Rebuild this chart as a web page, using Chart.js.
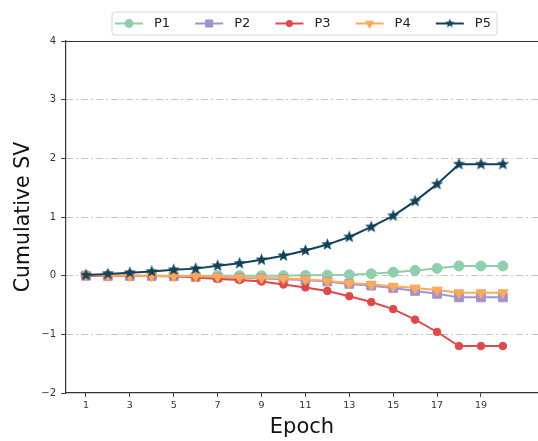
<!DOCTYPE html>
<html>
<head>
<meta charset="utf-8">
<script src="https://cdn.jsdelivr.net/npm/chart.js@4/dist/chart.umd.min.js"></script>
<style>
  html, body { margin: 0; padding: 0; background: #fff; }
  #wrap { width: 538px; height: 441px; }
</style>
</head>
<body>
<div id="wrap"><canvas id="chart" width="538" height="441"></canvas></div>
<script>
const epochs = [1, 2, 3, 4, 5, 6, 7, 8, 9, 10, 11, 12, 13, 14, 15, 16, 17, 18, 19, 20];
const xTicks = [1, 3, 5, 7, 9, 11, 13, 15, 17, 19];
const seriesNames = ['P1', 'P2', 'P3', 'P4', 'P5'];
const p1 = [0, 0, 0, 0, 0, 0, 0, 0, 0, 0, 0.005, 0.01, 0.017, 0.034, 0.06, 0.09, 0.125, 0.165, 0.165, 0.165];
const p2 = [0, -0.005, -0.005, -0.005, -0.01, -0.02, -0.03, -0.04, -0.05, -0.06, -0.075, -0.10, -0.14, -0.17, -0.21, -0.26, -0.31, -0.37, -0.37, -0.37];
const p3 = [0, 0, 0, -0.005, -0.01, -0.03, -0.055, -0.075, -0.10, -0.15, -0.20, -0.26, -0.35, -0.45, -0.57, -0.75, -0.96, -1.20, -1.20, -1.20];
const p4 = [0.01, 0, 0, -0.005, -0.005, -0.01, -0.02, -0.03, -0.04, -0.05, -0.06, -0.09, -0.125, -0.15, -0.18, -0.21, -0.245, -0.29, -0.29, -0.29];
const p5 = [0.01, 0.03, 0.05, 0.07, 0.10, 0.12, 0.17, 0.21, 0.27, 0.34, 0.43, 0.53, 0.66, 0.83, 1.02, 1.27, 1.56, 1.90, 1.90, 1.90];

const colors = ['#8fcfae', '#a492d0', '#de4a4b', '#fca95a', '#12425a'];
const FONT = '"DejaVu Sans", sans-serif';

// filled five-point star like matplotlib's '*' marker
function makeStar(r, color) {
    const c = document.createElement('canvas');
    const s = Math.ceil(r * 2 + 2);
    c.width = s;
    c.height = s;
    const g = c.getContext('2d');
    g.translate(s / 2, s / 2);
    g.beginPath();
    for (let i = 0; i < 10; i++) {
        const rad = i % 2 === 0 ? r : r * 0.42;
        const a = -Math.PI / 2 + i * Math.PI / 5;
        g.lineTo(Math.cos(a) * rad, Math.sin(a) * rad);
    }
    g.closePath();
    g.fillStyle = color;
    g.fill();
    return c;
}

const markers = [
    { style: 'circle', radius: 5, rotation: 0 },
    { style: 'rect', radius: 6.2, rotation: 0 },
    { style: 'circle', radius: 3.8, rotation: 0 },
    { style: 'triangle', radius: 5.8, rotation: 180 },
    { style: makeStar(6.5, colors[4]), radius: 6, rotation: 0 },
];
// smaller copies for the legend samples
const legendMarkers = [
    { style: 'circle', radius: 4, rotation: 0 },
    { style: 'rect', radius: 5, rotation: 0 },
    { style: 'circle', radius: 3.2, rotation: 0 },
    { style: 'triangle', radius: 4.6, rotation: 180 },
    { style: makeStar(5, colors[4]), radius: 5, rotation: 0 },
];

const values = [p1, p2, p3, p4, p5];

const datasets = values.map((v, i) => ({
    label: seriesNames[i],
    data: v,
    borderColor: colors[i],
    backgroundColor: colors[i],
    borderWidth: 2,
    pointStyle: markers[i].style,
    pointRadius: markers[i].radius,
    pointRotation: markers[i].rotation,
    pointBorderWidth: 1,
    pointBorderColor: colors[i],
    pointBackgroundColor: colors[i],
    tension: 0,
    order: 4 - i,
}));

// top spine + boxed legend with line-and-marker samples
const framePlugin = {
    id: 'frame',
    afterDraw(chart) {
        const ctx = chart.ctx;
        const area = chart.chartArea;
        ctx.save();
        ctx.strokeStyle = '#333';
        ctx.lineWidth = 1.2;
        ctx.beginPath();
        ctx.moveTo(area.left, area.top + 0.5);
        ctx.lineTo(area.right, area.top + 0.5);
        ctx.stroke();

        // legend box
        const bx = 112, by = 12, bw = 385, bh = 23, r = 3;
        ctx.beginPath();
        ctx.moveTo(bx + r, by);
        ctx.arcTo(bx + bw, by, bx + bw, by + bh, r);
        ctx.arcTo(bx + bw, by + bh, bx, by + bh, r);
        ctx.arcTo(bx, by + bh, bx, by, r);
        ctx.arcTo(bx, by, bx + bw, by, r);
        ctx.closePath();
        ctx.fillStyle = 'rgba(255,255,255,0.9)';
        ctx.fill();
        ctx.strokeStyle = '#d6d6d6';
        ctx.lineWidth = 1;
        ctx.stroke();

        const cy = by + bh / 2;
        chart.data.datasets.forEach((ds, i) => {
            const x0 = 115 + i * 80.2;
            const m = legendMarkers[i];
            ctx.strokeStyle = ds.borderColor;
            ctx.lineWidth = 2;
            ctx.beginPath();
            ctx.moveTo(x0, cy);
            ctx.lineTo(x0 + 28, cy);
            ctx.stroke();
            ctx.fillStyle = ds.borderColor;
            ctx.strokeStyle = ds.borderColor;
            ctx.lineWidth = 1;
            Chart.helpers.drawPoint(ctx, {
                pointStyle: m.style,
                rotation: m.rotation,
                radius: m.radius,
                borderWidth: 1,
            }, x0 + 14, cy);
            ctx.fillStyle = '#222';
            ctx.font = '13px ' + FONT;
            ctx.textAlign = 'left';
            ctx.textBaseline = 'middle';
            ctx.fillText(ds.label, x0 + 39, cy + 0.5);
        });
        ctx.restore();
    },
};

new Chart(document.getElementById('chart'), {
    type: 'line',
    data: { labels: epochs, datasets: datasets },
    options: {
        responsive: false,
        animation: false,
        layout: { autoPadding: false, padding: { top: 41, right: 0, left: 0, bottom: 0 } },
        plugins: {
            legend: { display: false },
            tooltip: { enabled: false },
        },
        scales: {
            x: {
                type: 'linear',
                min: 0.09,
                max: 21.6,
                afterBuildTicks: (scale) => {
                    scale.ticks = xTicks.map(v => ({ value: v }));
                },
                afterFit: (scale) => {
                    scale.height = 48;
                    scale.paddingRight = 0;
                    scale.paddingLeft = 0;
                },
                ticks: {
                    color: '#333',
                    font: { family: FONT, size: 9.5 },
                    padding: 3,
                    maxRotation: 0,
                    autoSkip: false,
                },
                grid: {
                    drawOnChartArea: false,
                    tickLength: 4,
                    tickColor: '#444',
                    tickWidth: 1,
                },
                border: { color: '#333', width: 1.2 },
                title: {
                    display: true,
                    text: 'Epoch',
                    color: '#111',
                    font: { family: FONT, size: 21 },
                    padding: { top: 0, bottom: 1 },
                },
            },
            y: {
                min: -2,
                max: 4,
                afterFit: (scale) => { scale.width = 66; },
                ticks: {
                    stepSize: 1,
                    color: '#333',
                    font: { family: FONT, size: 10 },
                    padding: 5,
                    callback: (v) => (v < 0 ? '\u2212' + Math.abs(v) : String(v)),
                },
                grid: {
                    color: (c) => (c.tick && (c.tick.value === -2 || c.tick.value === 4) ? 'rgba(0,0,0,0)' : '#c4c4c4'),
                    lineWidth: 1,
                    borderDash: [7, 3, 2, 3],
                    tickLength: 5,
                    tickColor: '#444',
                    tickBorderDash: [],
                },
                border: { color: '#333', width: 1.2, dash: [7, 3, 2, 3] },
                title: {
                    display: true,
                    text: 'Cumulative SV',
                    color: '#111',
                    font: { family: FONT, size: 20.5 },
                    padding: { top: 11, bottom: 0 },
                },
            },
        },
    },
    plugins: [framePlugin],
});
</script>
</body>
</html>
